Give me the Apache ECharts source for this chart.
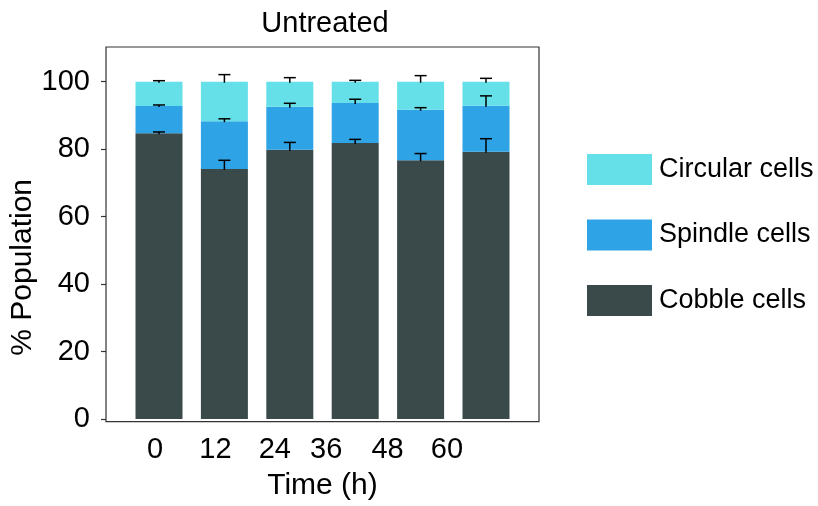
<!DOCTYPE html>
<html><head><meta charset="utf-8">
<script src="https://cdn.jsdelivr.net/npm/echarts@6/dist/echarts.min.js"></script>
<style>html,body{margin:0;padding:0;background:#fff}#c{width:818px;height:506px}</style>
</head><body><div id="c"></div>
<script>
var categories = ['0', '12', '24', '36', '48', '60'];
var cobble = [84.7, 74.1, 79.8, 81.8, 76.7, 79.2];
var spindle = [8.1, 14.2, 12.8, 11.9, 15.0, 13.7];
var circular = [7.2, 11.7, 7.4, 6.3, 8.3, 7.1];
var cobbleErr = [0.4, 2.6, 2.2, 1.1, 2.0, 3.9];
var spindleErr = [0.3, 0.7, 1.0, 1.1, 0.6, 2.9];
var circularErr = [0.3, 2.1, 1.2, 0.4, 1.8, 1.0];
var yTicks = [0, 20, 40, 60, 80, 100];

var FONT = 'Liberation Sans, Arial, sans-serif';
var labelShift = [4, 9, 15, 29, 33, 39];

var errData = [];
categories.forEach(function (c, i) {
  var t1 = cobble[i], t2 = cobble[i] + spindle[i], t3 = t2 + circular[i];
  errData.push([i, t1, t1 + cobbleErr[i]]);
  errData.push([i, t2, t2 + spindleErr[i]]);
  errData.push([i, t3, t3 + circularErr[i]]);
});

var rich = {};
labelShift.forEach(function (s, i) {
  rich['l' + i] = {fontSize: 29, fontFamily: FONT, color: '#000', padding: [0, 2 * s, 0, 0]};
});

var chart = echarts.init(document.getElementById('c'));
chart.setOption({
  animation: false,
  title: {text: 'Untreated', left: 320, top: 4, textAlign: 'center',
    textStyle: {fontSize: 29, fontWeight: 'normal', fontFamily: FONT, color: '#000'}},
  legend: {
    orient: 'vertical', left: 582, top: 149, itemWidth: 65, itemHeight: 31, itemGap: 34.5,
    data: ['Circular cells', 'Spindle cells', 'Cobble cells'],
    textStyle: {fontSize: 27, fontFamily: FONT, color: '#000', padding: [0, 0, 0, 2]},
    icon: 'rect'
  },
  grid: [
    {left: 106, top: 47, width: 433, height: 374.7, show: true, borderColor: '#333', borderWidth: 1.2, backgroundColor: 'transparent'},
    {left: 126.3, top: 81.7, width: 392.4, height: 340}
  ],
  xAxis: [
    {gridIndex: 0, type: 'value', show: false, min: 0, max: 1},
    {gridIndex: 1, type: 'category', data: categories,
      axisLine: {show: false},
      axisTick: {alignWithLabel: true, length: 6, lineStyle: {color: '#333', width: 1.2}},
      axisLabel: {margin: 16, formatter: function (v, i) { return '{l' + i + '|' + v + '}'; }, rich: rich},
      name: 'Time (h)', nameLocation: 'middle', nameGap: 52,
      nameTextStyle: {fontSize: 30, fontFamily: FONT, color: '#000'}}
  ],
  yAxis: [
    {gridIndex: 0, type: 'value', show: false, min: 0, max: 1},
    {gridIndex: 1, type: 'value', min: 0, max: 100, interval: 20, offset: 20.3,
      axisLine: {show: false},
      axisTick: {show: true, length: 5, lineStyle: {color: '#333', width: 1.2}},
      splitLine: {show: false},
      axisLabel: {margin: 16, fontSize: 29, fontFamily: FONT, color: '#000',
        formatter: function (v) { return yTicks.indexOf(v) >= 0 ? String(v) : ''; }},
      name: '% Population', nameLocation: 'middle', nameGap: 53, nameRotate: 90,
      nameTextStyle: {fontSize: 30, fontFamily: FONT, color: '#000', padding: [0, 34, 0, 0]}}
  ],
  series: [
    {name: 'Cobble cells', type: 'bar', stack: 's', xAxisIndex: 1, yAxisIndex: 1, barWidth: 47,
      data: cobble, itemStyle: {color: '#3a4a4a'}},
    {name: 'Spindle cells', type: 'bar', stack: 's', xAxisIndex: 1, yAxisIndex: 1, barWidth: 47,
      data: spindle, itemStyle: {color: '#2ea3e6'}},
    {name: 'Circular cells', type: 'bar', stack: 's', xAxisIndex: 1, yAxisIndex: 1, barWidth: 47,
      data: circular, itemStyle: {color: '#66e0e8'}},
    {type: 'custom', xAxisIndex: 1, yAxisIndex: 1, data: errData, z: 10,
      renderItem: function (params, api) {
        var x = api.value(0);
        var p0 = api.coord([x, api.value(1)]);
        var p1 = api.coord([x, api.value(2)]);
        var hw = 6;
        var st = {stroke: '#000', lineWidth: 1.5};
        return {type: 'group', children: [
          {type: 'line', shape: {x1: p0[0], y1: p0[1] + 1, x2: p1[0], y2: p1[1]}, style: st},
          {type: 'line', shape: {x1: p1[0] - hw, y1: p1[1], x2: p1[0] + hw, y2: p1[1]}, style: st}
        ]};
      }}
  ]
});
</script></body></html>
